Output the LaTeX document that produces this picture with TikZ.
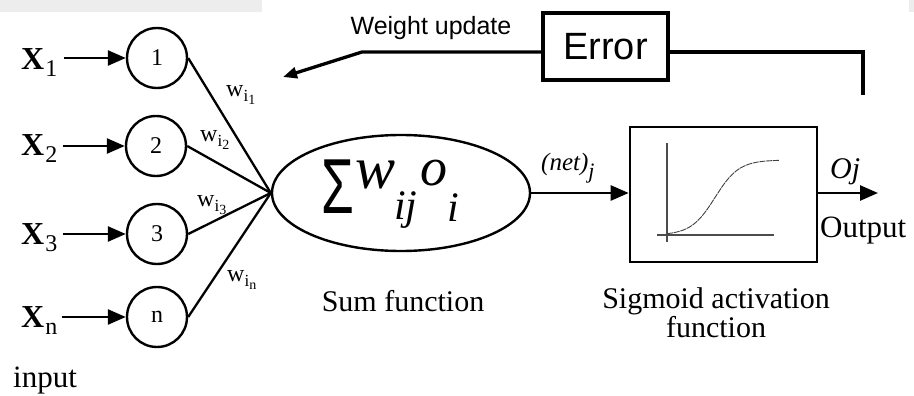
\documentclass[tikz,border=0pt]{standalone}
\usepackage{fontspec}
\usepackage{graphicx}
\setmainfont{Liberation Serif}
\newfontfamily\arialfont{Liberation Sans}
\usetikzlibrary{arrows.meta,shapes.geometric}

% font size helper (size = leading)
\newcommand{\fsz}[1]{\fontsize{#1}{#1}\selectfont}
% input label X with subscript
\newcommand{\xlab}[1]{{\fsz{32}\bfseries X}\kern1pt\raisebox{-7pt}{\fsz{24}#1}}
% weight label w_{i k}
\newcommand{\wlab}[1]{{\fsz{24}w}\raisebox{-5pt}{\fsz{17}i\raisebox{-3pt}{\fsz{14}#1}}}

\begin{document}
\begin{tikzpicture}[x=1pt,y=-1pt,
  neuron/.style={circle,draw,line width=2.4pt,minimum size=60pt,inner sep=0pt,font=\fsz{24}},
  feed/.style={line width=2.6pt,-{Triangle[length=18pt,width=15pt]}},
  link/.style={line width=2.3pt},
  lbl/.style={inner sep=0pt},
  axisline/.style={line width=1.1pt,black!70},
  errbox/.style={draw,line width=3.4pt,minimum width=125pt,minimum height=67pt,inner sep=0pt,font=\arialfont\fsz{38}},
  fback/.style={line width=3.3pt,line join=miter}
]
\useasboundingbox (0,0) rectangle (914,396);
\fill[black!7] (0,0) rectangle (262,12);
\fill[black!7] (909,0) rectangle (914,12);

% input neurons
\node[neuron] (c1) at (157,58) {1};
\node[neuron] (c2) at (156,146) {2};
\node[neuron] (c3) at (157,234) {3};
\node[neuron] (cn) at (157,317) {n};

% input labels
\node[lbl,anchor=base west] (x1) at (21,70) {\xlab{1}};
\node[lbl,anchor=base west] (x2) at (21,155) {\xlab{2}};
\node[lbl,anchor=base west] (x3) at (21,244) {\xlab{3}};
\node[lbl,anchor=base west] (xn) at (21,327) {\xlab{n}};
\node[lbl,anchor=base,font=\fsz{31}] (inp) at (45,387) {input};

\draw[feed,shorten <=6pt] (x1.east |- c1) -- (c1);
\draw[feed,shorten <=5pt] (x2.east |- c2) -- (c2);
\draw[feed,shorten <=5pt] (x3.east |- c3) -- (c3);
\draw[feed,shorten <=4pt] (xn.east |- cn) -- (cn);

% summation unit
\node[ellipse,draw,line width=2.4pt,minimum width=258pt,minimum height=116pt,inner sep=0pt] (sum) at (401,193) {};
\coordinate (hub) at (sum.west);
\node[lbl,anchor=base west] (formula) at (321,188)
  {\raisebox{-25pt}{\scalebox{0.68}[1]{\arialfont\fsz{78}Σ}}\kern2pt{\itshape\fsz{60}w}\kern-2pt\raisebox{-31pt}{\itshape\fsz{42}ij}\kern3pt\raisebox{3pt}{\itshape\fsz{54}o}\kern0pt\raisebox{-33pt}{\itshape\fsz{42}i}};
\node[lbl,anchor=base,font=\fsz{30}] (sumlbl) at (403,311) {Sum function};

% weighted connections
\draw[link] (c1.east) -- (hub);
\draw[link] (c2.east) -- (hub);
\draw[link] (c3.east) -- (hub);
\draw[link] (cn.east) -- (hub);
\node[lbl,anchor=base west] (w1) at (226,97) {\wlab{1}};
\node[lbl,anchor=base west] (w2) at (200,142) {\wlab{2}};
\node[lbl,anchor=base west] (w3) at (197,206) {\wlab{3}};
\node[lbl,anchor=base west] (wn) at (227,281) {\wlab{n}};

% activation unit
\node[draw,line width=2.6pt,minimum width=187pt,minimum height=135pt,inner sep=0pt] (sig) at (723.5,194.5) {};
\draw[axisline] (667,143) -- (667,242);
\draw[axisline] (657,235) -- (774,235);
\draw[line width=0.9pt,black!75,dash pattern=on 6pt off 0.8pt]
  plot[domain=667:779,samples=80,smooth] (\x,{235-75/(1+exp(-(\x-715)/12))});
\draw[feed] (sum.east) -- (sum.east -| sig.west);
\node[lbl,anchor=base west] (net) at (541,170) {{\itshape\fsz{25}(net)}\raisebox{-9pt}{\itshape\fsz{22}j}};
\node[lbl,anchor=north,align=center,font=\fontsize{30}{27}\selectfont] (siglbl) at (716,287.5) {Sigmoid activation\\function};

% output
\coordinate (outtip) at (878,193);
\draw[feed] (sig.east |- outtip) -- (outtip);
\node[lbl,anchor=base west,font=\itshape\fsz{30}] (oj) at (830,178) {Oj};
\node[lbl,anchor=base west,font=\fsz{31}] (outlbl) at (820,237) {Output};

% error feedback
\node[errbox] (err) at (605.5,46.5) {Error};
\node[lbl,anchor=base,font=\arialfont\fsz{25}] (wu) at (431,35) {Weight update};
\coordinate (fbL) at (362,52);
\coordinate (wtip) at (283,77);
\coordinate (fbR) at (863,52);
\coordinate (fbEnd) at (863,95);
\draw[fback,-{Triangle[length=14pt,width=11pt]}] (err.west |- fbL) -- (fbL) -- (wtip);
\draw[fback] (err.east |- fbR) -- (fbR) -- (fbEnd);
\end{tikzpicture}
\end{document}
